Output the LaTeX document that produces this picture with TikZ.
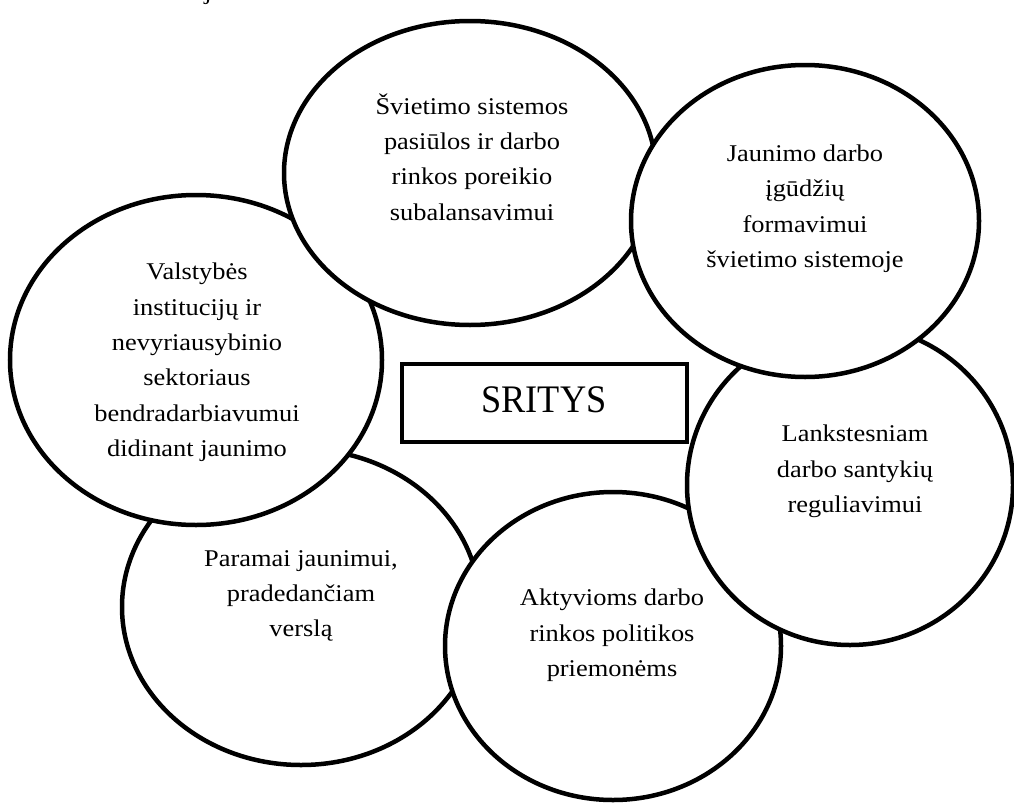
\documentclass[tikz,border=0pt]{standalone}
\usepackage{fontspec}
\newfontfamily\bodyfont{Liberation Serif}[FakeStretch=1.1]
\newfontfamily\titlefont{Liberation Serif}[FakeStretch=0.93]
\usetikzlibrary{shapes.geometric}
\tikzset{
  bubble/.style={ellipse, draw=black, fill=white, line width=4.5pt, inner sep=0pt},
  bubbletext/.style={align=center, inner sep=0pt, font=\bodyfont\fontsize{24}{35.3}\selectfont},
  titlebox/.style={draw=black, fill=white, line width=4.5pt, inner sep=0pt, minimum width=285pt, minimum height=78pt},
}
\begin{document}
\begin{tikzpicture}[x=1pt, y=-1pt]
\useasboundingbox (0,0) rectangle (1014,803);
% cropped character at top edge
\node[bubbletext, anchor=base] (cut) at (208,-1) {j};
% bubbles, bottom to top
\node[bubble, minimum width=358pt, minimum height=316pt] (parama) at (301,607) {};
\node[bubbletext] (paramat) at (301,594.5) {\strut Paramai jaunimui,\\\strut pradedančiam\\\strut verslą};
\node[bubble, minimum width=336pt, minimum height=308pt] (akt) at (613,646) {};
\node[bubbletext] (aktt) at (612,634) {\strut Aktyvioms darbo\\\strut rinkos politikos\\\strut priemonėms};
\node[bubble, minimum width=326pt, minimum height=320pt] (lank) at (850,485) {};
\node[bubbletext] (lankt) at (855,470) {\strut Lankstesniam\\\strut darbo santykių\\\strut reguliavimui};
\node[bubble, minimum width=372pt, minimum height=330pt] (valst) at (196,360) {};
\node[bubbletext] (valstt) at (197,361) {\strut Valstybės\\\strut institucijų ir\\\strut nevyriausybinio\\\strut sektoriaus\\\strut bendradarbiavumui\\\strut didinant jaunimo};
\node[bubble, minimum width=372pt, minimum height=304pt] (svie) at (470,173) {};
\node[bubbletext] (sviet) at (472,160) {\strut Švietimo sistemos\\\strut pasiūlos ir darbo\\\strut rinkos poreikio\\\strut subalansavimui};
\node[bubble, minimum width=348pt, minimum height=312pt] (jaun) at (805,221) {};
\node[bubbletext] (jaunt) at (805,207.5) {\strut Jaunimo darbo\\\strut įgūdžių\\\strut formavimui\\\strut švietimo sistemoje};
% central box
\node[titlebox] (sritys) at (544.5,403) {};
\node[anchor=base, inner sep=0pt, font=\titlefont\fontsize{39}{46}\selectfont] (sritytext) at (544,412) {SRITYS};
\end{tikzpicture}
\end{document}
